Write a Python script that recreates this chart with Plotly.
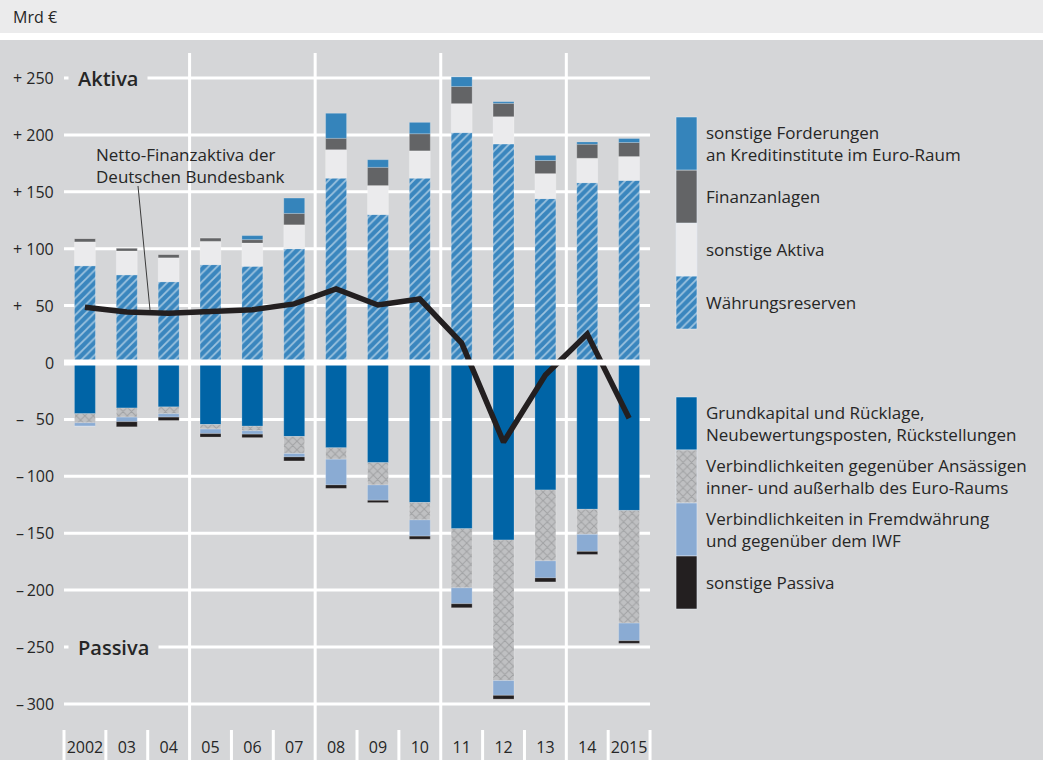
import plotly.graph_objects as go

# Werte in Mrd €
years = ["2002", "03", "04", "05", "06", "07", "08", "09", "10", "11", "12", "13", "14", "2015"]

waehrungsreserven = [85, 77, 71, 86, 84.5, 100, 162, 130, 162, 202, 192, 144, 158, 160]
sonstige_aktiva = [21, 21, 21, 20.5, 20.5, 21, 25, 25.5, 24, 25.5, 24, 22, 21.5, 21]
finanzanlagen = [3, 2.5, 3, 3, 3, 10, 10, 16, 15, 15, 11.7, 11.5, 12.3, 12.3]
sonstige_forderungen = [0, 0, 0, 0, 3.5, 13.5, 22, 6.7, 10, 8.5, 1.5, 4.5, 2, 3.5]

grundkapital = [45, 40, 39, 54.5, 56, 65, 75, 88, 123, 146, 156, 112, 129, 130]
verb_ansaessige = [8, 8, 6, 4, 4, 15, 10, 19.6, 15.3, 52, 123.5, 62.3, 22, 99]
verb_fremdwaehrung = [3, 4, 3, 4, 3, 3, 22.6, 13.5, 14.3, 14, 13, 15, 15, 15.5]
sonstige_passiva = [0, 4.5, 3, 3, 3, 3.5, 3, 2, 2.7, 3.5, 3.3, 3.5, 2.7, 2.3]

netto_finanzaktiva = [48.5, 44.4, 43.2, 44.6, 46.3, 51.5, 64.6, 50.5, 55.8, 17, -70, -11, 25, -49]

y_ticks = [250, 200, 150, 100, 50, 0, -50, -100, -150, -200, -250, -300]

# Farben
C_RES = "#3a86be"
C_SONST_A = "#ebebed"
C_FIN = "#636466"
C_FORD = "#3584bb"
C_GRUND = "#0064a6"
C_ANS_BG = "#bfc0c2"
C_ANS_FG = "#828385"
C_FREMD = "#8aabd3"
C_SONST_P = "#231f20"
BG = "#d5d6d8"
HEADER = "#ebebec"
TXT = "#262626"
FONT = "Open Sans"

# Geometrie (Pixel)
W, H, B = 1043, 760, 30
PLOT_H = H - B
CELL = 41.86
X0_PX = 64
ZERO_PX = 362.5
K = 1.138


def px_x(p):
    return (p - X0_PX) / CELL - 0.5


def px_y(p):
    return (ZERO_PX - p) / K


def paper_y(p):
    return (PLOT_H - p) / PLOT_H


x = list(range(len(years)))
bar_line = dict(width=0.6, color="rgba(255,255,255,0.35)")


def stack(series, sign):
    bases, acc = [], [0] * len(series[0])
    for s in series:
        bases.append(list(acc))
        acc = [a + sign * v for a, v in zip(acc, s)]
    return bases


def label(text, x_px, y_center, size=17):
    return dict(x=x_px / W, xref="paper", y=y_center, yref="y", text=text,
                showarrow=False, xanchor="left", yanchor="middle", align="left",
                font=dict(size=size, color=TXT))


pat_res = dict(shape="/", fgcolor="white", bgcolor=C_RES, size=6, solidity=0.3)
pat_ans = dict(shape="x", fgcolor=C_ANS_FG, bgcolor=C_ANS_BG, size=6, solidity=0.3)

aktiva = [
    (waehrungsreserven, dict(color=C_RES, pattern=pat_res)),
    (sonstige_aktiva, dict(color=C_SONST_A)),
    (finanzanlagen, dict(color=C_FIN)),
    (sonstige_forderungen, dict(color=C_FORD)),
]
passiva = [
    (grundkapital, dict(color=C_GRUND)),
    (verb_ansaessige, dict(color=C_ANS_BG, pattern=pat_ans)),
    (verb_fremdwaehrung, dict(color=C_FREMD)),
    (sonstige_passiva, dict(color=C_SONST_P)),
]

fig = go.Figure()

for (vals, mk), base in zip(aktiva, stack([a[0] for a in aktiva], 1)):
    fig.add_trace(go.Bar(x=x, y=vals, base=base, width=0.5,
                         marker=dict(line=bar_line, **mk), showlegend=False))
for (vals, mk), base in zip(passiva, stack([p[0] for p in passiva], -1)):
    fig.add_trace(go.Bar(x=x, y=[-v for v in vals], base=base, width=0.5,
                         marker=dict(line=bar_line, **mk), showlegend=False))

fig.add_trace(go.Scatter(x=x, y=netto_finanzaktiva, mode="lines",
                         line=dict(color="#231f20", width=5.5),
                         showlegend=False))

# Legendenfelder rechts
LEG_X = px_x(686.5)
BLOCK = 53 / K
legend_akt = [
    (dict(color=C_RES, pattern=pat_res), "Währungsreserven"),
    (dict(color=C_SONST_A), "sonstige Aktiva"),
    (dict(color=C_FIN), "Finanzanlagen"),
    (dict(color=C_FORD), "sonstige Forderungen<br>an Kreditinstitute im Euro-Raum"),
]
legend_pas = [
    (dict(color=C_GRUND), "Grundkapital und Rücklage,<br>Neubewertungsposten, Rückstellungen"),
    (dict(color=C_ANS_BG, pattern=pat_ans), "Verbindlichkeiten gegenüber Ansässigen<br>"
                                            "inner- und außerhalb des Euro-Raums"),
    (dict(color=C_FREMD), "Verbindlichkeiten in Fremdwährung<br>und gegenüber dem IWF"),
    (dict(color=C_SONST_P), "sonstige Passiva"),
]

annotations = []
b = px_y(329)
for mk, text in legend_akt:
    fig.add_trace(go.Bar(x=[LEG_X], y=[BLOCK], base=[b], width=0.5,
                         marker=mk, showlegend=False, hoverinfo="skip"))
    annotations.append(label(text, 704, b + BLOCK / 2))
    b += BLOCK
b = px_y(397)
for mk, text in legend_pas:
    fig.add_trace(go.Bar(x=[LEG_X], y=[-BLOCK], base=[b], width=0.5,
                         marker=mk, showlegend=False, hoverinfo="skip"))
    annotations.append(label(text, 704, b - BLOCK / 2))
    b -= BLOCK

# y-Beschriftung
for v in y_ticks:
    if v > 0:
        t = "+\u00a0" + ("\u2007" if v < 100 else "") + str(v)
    elif v < 0:
        t = "\u2013\u2009" + ("\u2007" if v > -100 else "") + str(-v)
    else:
        t = "0"
    annotations.append(dict(x=56 / W, xref="paper", y=v, yref="y", text=t,
                            showarrow=False, xanchor="right", yanchor="middle",
                            font=dict(size=16, color=TXT)))

annotations += [
    dict(x=11 / W, xref="paper", y=paper_y(17), yref="paper", text="Mrd €",
         showarrow=False, xanchor="left", yanchor="middle",
         font=dict(size=16, color=TXT)),
    dict(x=68 / W, xref="paper", y=250, yref="y", text="Aktiva", showarrow=False,
         xanchor="left", yanchor="middle", bgcolor=BG, borderpad=9,
         font=dict(size=20, color=TXT, weight=600)),
    dict(x=68 / W, xref="paper", y=-250, yref="y", text="Passiva", showarrow=False,
         xanchor="left", yanchor="middle", bgcolor=BG, borderpad=9,
         font=dict(size=20, color=TXT, weight=600)),
    label("Netto-Finanzaktiva der<br>Deutschen Bundesbank", 94, px_y(165)),
]

shapes = [
    dict(type="rect", xref="paper", yref="paper", x0=0, x1=1, y0=paper_y(33), y1=1,
         fillcolor=HEADER, line_width=0, layer="below"),
    dict(type="rect", xref="paper", yref="paper", x0=0, x1=1, y0=paper_y(40),
         y1=paper_y(33), fillcolor="white", line_width=0, layer="below"),
]
for v in y_ticks:
    if v != 0:
        shapes.append(dict(type="line", xref="x", yref="y", x0=-0.5, x1=13.5, y0=v, y1=v,
                           line=dict(color="white", width=3), layer="below"))
for i in range(-1, 14):
    xb = i + 0.5
    y_top = paper_y(53) if i in (2, 5, 8, 11) else 0
    shapes.append(dict(type="line", xref="x", yref="paper", x0=xb, x1=xb,
                       y0=paper_y(H), y1=y_top,
                       line=dict(color="white", width=3), layer="below"))
shapes.append(dict(type="line", xref="x", yref="y", x0=-0.5, x1=13.5, y0=0, y1=0,
                   line=dict(color="white", width=6), layer="above"))
# Zeiger zur Netto-Linie
shapes.append(dict(type="line", xref="x", yref="y", x0=px_x(138), y0=px_y(186),
                   x1=px_x(150), y1=px_y(310), line=dict(color="#3a3a3a", width=1),
                   layer="above"))

fig.update_layout(
    width=W, height=H,
    margin=dict(l=0, r=0, t=0, b=B),
    paper_bgcolor=BG, plot_bgcolor="rgba(0,0,0,0)",
    barmode="overlay",
    font=dict(family=FONT, color=TXT),
    annotations=annotations,
    shapes=shapes,
    xaxis=dict(range=[px_x(0), px_x(W)], tickvals=x, ticktext=years,
               showgrid=False, zeroline=False, showline=False, ticks="",
               tickfont=dict(size=16, color=TXT), ticklabelstandoff=6, fixedrange=True),
    yaxis=dict(range=[px_y(PLOT_H), px_y(0)], showgrid=False, zeroline=False,
               showticklabels=False, fixedrange=True),
)

fig.write_html("out.html", config={"displayModeBar": False},
               post_script="document.body.style.margin='0';document.body.style.overflow='hidden';")
